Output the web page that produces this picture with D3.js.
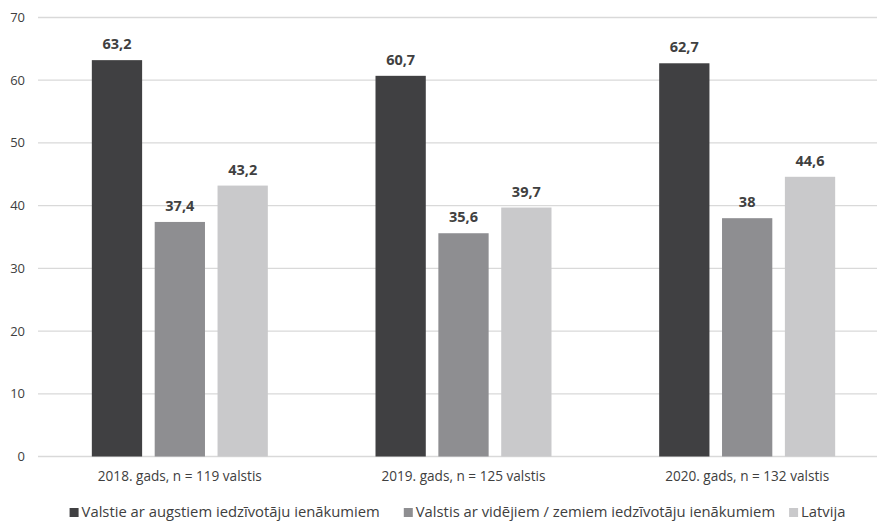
<!DOCTYPE html>
<html>
<head>
<meta charset="utf-8">
<script src="https://cdn.jsdelivr.net/npm/d3@7"></script>
<style>
  body { margin: 0; background: #fff; }
  svg { display: block; font-family: "Open Sans", sans-serif; }
</style>
</head>
<body>
<div id="chart"></div>
<script>
// Category labels, series names and values
const categories = ['2018. gads, n = 119 valstis', '2019. gads, n = 125 valstis', '2020. gads, n = 132 valstis'];
const seriesNames = ['Valstie ar augstiem iedzīvotāju ienākumiem', 'Valstis ar vidējiem / zemiem iedzīvotāju ienākumiem', 'Latvija'];
const highIncome = [63.2, 60.7, 62.7];
const midLowIncome = [37.4, 35.6, 38];
const latvia = [43.2, 39.7, 44.6];
const yTicks = [0, 10, 20, 30, 40, 50, 60, 70];

const colors = ['#404042', '#8e8e91', '#c9c9cb'];
const textColor = '#404040';

const W = 877, H = 521;
const margin = { top: 17.5, left: 38, bottom: 64.5 };
const plotRight = 889;

const svg = d3.select('#chart')
    .append('svg')
    .attr('width', W)
    .attr('height', H);

const series = [highIncome, midLowIncome, latvia];
const data = categories.map((c, i) => ({
    cat: c,
    values: series.map((s, j) => ({ key: seriesNames[j], value: s[i], idx: j }))
}));

// Scales
const x0 = d3.scaleBand()
    .domain(categories)
    .range([margin.left, plotRight]);

const groupWidth = 176;
const x1 = d3.scaleBand()
    .domain(seriesNames)
    .range([0, groupWidth])
    .paddingInner(0.2);

const y = d3.scaleLinear()
    .domain([0, 70])
    .range([H - margin.bottom, margin.top]);

// Gridlines
svg.append('g')
    .selectAll('line')
    .data(yTicks)
    .enter()
    .append('line')
    .attr('x1', margin.left)
    .attr('x2', plotRight)
    .attr('y1', d => y(d))
    .attr('y2', d => y(d))
    .attr('stroke', '#d9d9d9')
    .attr('stroke-width', 1.3);

// Y tick labels
svg.append('g')
    .selectAll('text')
    .data(yTicks)
    .enter()
    .append('text')
    .attr('x', 25)
    .attr('y', d => y(d))
    .attr('dy', '0.35em')
    .attr('text-anchor', 'end')
    .attr('fill', textColor)
    .style('font-size', '13px')
    .text(d => d);

// Bars
const groups = svg.append('g')
    .selectAll('g')
    .data(data)
    .enter()
    .append('g')
    .attr('transform', d => `translate(${x0(d.cat) + (x0.bandwidth() - groupWidth) / 2}, 0)`);

groups.selectAll('rect')
    .data(d => d.values)
    .enter()
    .append('rect')
    .attr('x', d => x1(d.key))
    .attr('width', x1.bandwidth())
    .attr('y', d => y(d.value))
    .attr('height', d => y(0) - y(d.value))
    .attr('fill', d => colors[d.idx]);

// Value labels
groups.selectAll('text')
    .data(d => d.values)
    .enter()
    .append('text')
    .attr('x', d => x1(d.key) + x1.bandwidth() / 2)
    .attr('y', d => y(d.value) - 11)
    .attr('text-anchor', 'middle')
    .attr('fill', textColor)
    .style('font-size', '14.5px')
    .style('font-weight', 'bold')
    .text(d => String(d.value).replace('.', ','));

// Category labels
svg.append('g')
    .selectAll('text')
    .data(categories)
    .enter()
    .append('text')
    .attr('x', d => x0(d) + x0.bandwidth() / 2)
    .attr('y', 481)
    .attr('text-anchor', 'middle')
    .attr('fill', textColor)
    .style('font-size', '13.6px')
    .text(d => d);

// Legend
const legend = svg.append('g');
const items = legend.selectAll('g')
    .data(seriesNames)
    .enter()
    .append('g');

items.append('rect')
    .attr('y', 508)
    .attr('width', 9)
    .attr('height', 9)
    .attr('fill', (d, i) => colors[i]);

items.append('text')
    .attr('x', 12)
    .attr('y', 517)
    .attr('fill', textColor)
    .style('font-size', '14.8px')
    .text(d => d);

let pos = 0;
const gaps = [24, 14, 0];
items.each(function(d, i) {
    const g = d3.select(this);
    g.attr('transform', `translate(${pos}, 0)`);
    pos += 12 + g.select('text').node().getComputedTextLength() + gaps[i];
});
const totalWidth = pos;
legend.attr('transform', `translate(${(W + margin.left) / 2 - totalWidth / 2}, 0)`);
</script>
</body>
</html>
